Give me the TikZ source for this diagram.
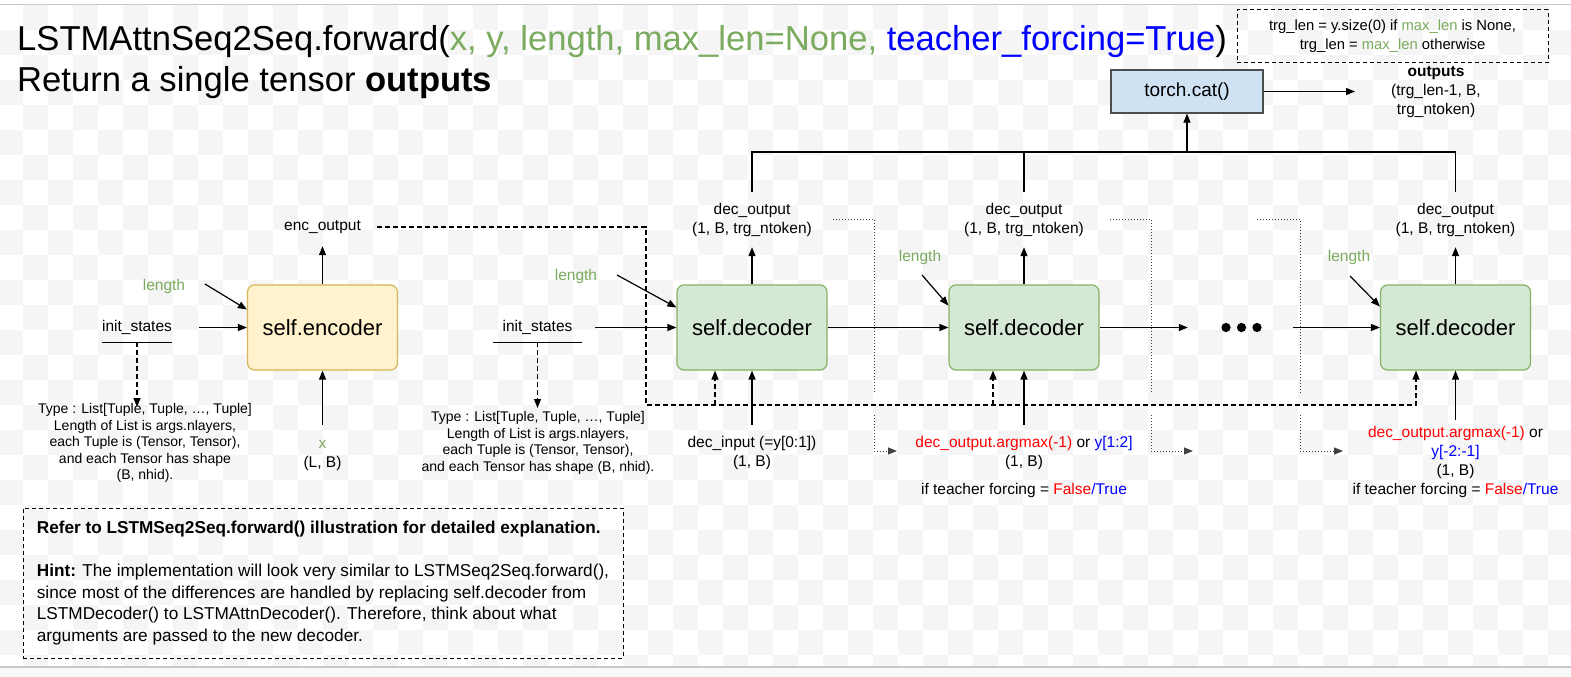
\documentclass[tikz,border=0pt]{standalone}
\usepackage{fontspec}
\setmainfont{Liberation Sans}
\usetikzlibrary{arrows.meta,calc}
\definecolor{tgreen}{HTML}{7AAB5E}
\definecolor{tblue}{HTML}{0000FF}
\definecolor{tred}{HTML}{FF0000}
\definecolor{encfill}{HTML}{FFF2CC}
\definecolor{encdraw}{HTML}{D6B656}
\definecolor{decfill}{HTML}{D5E8D4}
\definecolor{decdraw}{HTML}{82B366}
\definecolor{catfill}{HTML}{CFE2F3}
\definecolor{catdraw}{HTML}{4D4D4D}
\definecolor{checker}{HTML}{F5F5F5}
\definecolor{bottomfill}{HTML}{F8F9FB}
\definecolor{frameline}{HTML}{C8C8C8}
\begin{document}
\begin{tikzpicture}[x=1pt,y=-1pt,
  arr/.style={line width=1.2pt,-{Triangle[length=9pt,width=7pt]}},
  darr/.style={line width=1.1pt,dash pattern=on 5pt off 3pt,-{Triangle[length=9pt,width=7pt]}},
  dotl/.style={line width=1pt,black!75,dash pattern=on 1pt off 2pt},
  dotarr/.style={dotl,-{Triangle[length=9pt,width=7pt]}},
  lbl/.style={inner sep=0pt,align=center,font=\fontsize{15.5}{19}\selectfont},
  small/.style={inner sep=0pt,align=center,font=\fontsize{14}{16.5}\selectfont},
  encbox/.style={draw=encdraw,fill=encfill,line width=1.2pt,rounded corners=7pt,minimum width=150,minimum height=85,font=\fontsize{22}{26}\selectfont},
  decbox/.style={draw=decdraw,fill=decfill,line width=1.2pt,rounded corners=7pt,minimum width=150,minimum height=85,font=\fontsize{22}{26}\selectfont},
  notebox/.style={draw,line width=1pt,dash pattern=on 4pt off 3pt}
]
\useasboundingbox (0,0) rectangle (1571,677);
% background
\fill[white] (0,0) rectangle (1571,677);
\begin{scope}
\clip (0,5) rectangle (1571,667);
\foreach \r in {0,...,26}{\foreach \k in {0,...,63}{%
  \pgfmathtruncatemacro\cpar{mod(\r+\k,2)}%
  \ifnum\cpar=1 \fill[checker] (-2+25*\k,5+25*\r) rectangle ++(25,25);\fi}}
\end{scope}
\fill[bottomfill] (0,667) rectangle (1571,677);
\draw[frameline,line width=1.2pt] (0,667) -- (1571,667);
\draw[frameline,line width=1pt] (0,4.5) -- (1571,4.5);

% title
\node[anchor=base west,inner sep=0pt,font=\fontsize{34.6}{40}\selectfont] (title1) at (17,51)
  {LSTMAttnSeq2Seq.forward(\textcolor{tgreen}{x, y, length, max\_len=None,} \textcolor{tblue}{teacher\_forcing=True})};
\node[anchor=base west,inner sep=0pt,font=\fontsize{34.6}{40}\selectfont] (title2) at (17,91)
  {Return a single tensor \textbf{outputs}};

% top right note
\node[notebox,minimum width=311,minimum height=53,align=center,inner sep=0pt,font=\fontsize{14.8}{19}\selectfont] (note) at (1392.5,36.5)
  {trg\_len = y.size(0) if \textcolor{tgreen}{max\_len} is None,\\trg\_len = \textcolor{tgreen}{max\_len} otherwise};

% torch.cat
\node[draw=catdraw,fill=catfill,line width=1.2pt,minimum width=152,minimum height=43,font=\fontsize{19}{22}\selectfont] (cat) at (1187,91.5) {torch.cat()};
\node[lbl] (outs) at (1436,92) {\textbf{outputs}\\(trg\_len-1, B,\\trg\_ntoken)};
\coordinate (outarr) at (1355,91.5);
\draw[arr] (cat.east) -- (outarr);

% encoder
\node[encbox] (enc) at (322.5,327.5) {self.encoder};
\node[lbl,inner xsep=16pt,minimum height=38] (encout) at (322.5,227) {enc\_output};
\draw[arr] (enc.north) -- (encout.south);
\node[lbl,minimum height=61] (xin) at (322.5,455.5) {\textcolor{tgreen}{x}\\(L, B)};
\draw[arr] (xin.north) -- (enc.south);
\node[lbl] (len0) at (164,286) {\textcolor{tgreen}{length}};
\coordinate (l0s) at (205,284);
\draw[arr] (l0s) -- ([yshift=18pt]enc.west);
\node[lbl,minimum width=70,minimum height=30] (is0) at (137,327) {init\_states};
\draw[line width=1.2pt] (is0.south west) -- (is0.south east);
\coordinate (is0a) at (199,327.5);
\draw[arr] (is0a) -- (enc.west);
\node[small] (t0) at (145,443) {Type : List[Tuple, Tuple, \dots, Tuple]\\Length of List is args.nlayers,\\each Tuple is (Tensor, Tensor),\\and each Tensor has shape\\(B, nhid).};
\coordinate (t0a) at (137,407);
\draw[darr] (is0.south) -- (t0a);

% decoder 1
\node[decbox] (dec1) at (752,327.5) {self.decoder};
\node[lbl,minimum height=55] (do1) at (752,219.5) {dec\_output\\(1, B, trg\_ntoken)};
\draw[arr] (dec1.north) -- (do1.south);
\node[lbl,minimum height=55] (din1) at (752,452.5) {dec\_input (=y[0:1])\\(1, B)};
\draw[arr] (din1.north) -- (dec1.south);
\node[lbl] (len1) at (576,276) {\textcolor{tgreen}{length}};
\coordinate (l1s) at (617,275);
\draw[arr] (l1s) -- ([yshift=20pt]dec1.west);
\node[lbl,minimum width=89,minimum height=30] (is1) at (537.5,327) {init\_states};
\draw[line width=1.2pt] (is1.south west) -- (is1.south east);
\coordinate (is1a) at (595,327.5);
\draw[arr] (is1a) -- (dec1.west);
\node[small] (t1) at (538,443) {Type : List[Tuple, Tuple, \dots, Tuple]\\Length of List is args.nlayers,\\each Tuple is (Tensor, Tensor),\\and each Tensor has shape (B, nhid).};
\coordinate (t1a) at (537.5,408);
\draw[darr] (is1.south) -- (t1a);

% decoder 2
\node[decbox] (dec2) at (1024,327.5) {self.decoder};
\node[lbl,minimum height=55] (do2) at (1024,219.5) {dec\_output\\(1, B, trg\_ntoken)};
\draw[arr] (dec2.north) -- (do2.south);
\node[lbl,minimum height=55] (din2) at (1024,452.5) {\textcolor{tred}{dec\_output.argmax(-1)} or \textcolor{tblue}{y[1:2]}\\(1, B)};
\draw[arr] (din2.north) -- (dec2.south);
\node[lbl] (tf2) at (1024,490) {if teacher forcing = \textcolor{tred}{False}\textcolor{tblue}{/True}};
\node[lbl] (len2) at (920,257) {\textcolor{tgreen}{length}};
\coordinate (l2s) at (922,275);
\draw[arr] (l2s) -- ([yshift=22pt]dec2.west);
\draw[arr] (dec1.east) -- (dec2.west);

% dots
\node[minimum width=105,minimum height=12,inner sep=0pt] (dots) at (1240.5,327.5) {};
\fill (1226,327.5) circle (4.6) (1241.5,327.5) circle (4.6) (1257,327.5) circle (4.6);
\draw[arr] (dec2.east) -- (dots.west);

% decoder 3
\node[decbox] (dec3) at (1455.5,327.5) {self.decoder};
\node[lbl,minimum height=55] (do3) at (1455.5,219.5) {dec\_output\\(1, B, trg\_ntoken)};
\draw[arr] (dec3.north) -- (do3.south);
\node[lbl,minimum height=83] (din3) at (1455.5,461.5) {\textcolor{tred}{dec\_output.argmax(-1)} or\\\textcolor{tblue}{y[-2:-1]}\\(1, B)\\if teacher forcing = \textcolor{tred}{False}\textcolor{tblue}{/True}};
\draw[arr] (din3.north) -- (dec3.south);
\node[lbl] (len3) at (1349,257) {\textcolor{tgreen}{length}};
\coordinate (l3s) at (1350,276);
\draw[arr] (l3s) -- ([yshift=21pt]dec3.west);
\draw[arr] (dots.east) -- (dec3.west);

% bus to torch.cat
\coordinate (bus) at (1187,152);
\draw[line width=1.2pt] (do1.north) |- (bus) -| (do3.north);
\draw[line width=1.2pt] (do2.north) -- (do2.north |- bus);
\draw[arr] (bus) -- (cat.south);

% dashed enc_output feed
\coordinate (dA) at (646,405);
\coordinate (b1) at ([xshift=-37pt]dec1.south);
\coordinate (b2) at ([xshift=-31pt]dec2.south);
\coordinate (b3) at ([xshift=-39.5pt]dec3.south);
\draw[darr] (encout.east) -| (dA) -| (b3);
\draw[darr] (b1 |- dA) -- (b1);
\draw[darr] (b2 |- dA) -- (b2);

% dotted feedback
\coordinate (p1a) at (833,219); \coordinate (p1b) at (874,393);
\coordinate (p1c) at (874,415); \coordinate (p1d) at (897,451);
\draw[dotl] (p1a) -| (p1b);
\draw[dotarr] (p1c) |- (p1d);
\coordinate (p2a) at (1110,219); \coordinate (p2b) at (1151,393);
\coordinate (p2c) at (1151,415); \coordinate (p2d) at (1193,451);
\draw[dotl] (p2a) -| (p2b);
\draw[dotarr] (p2c) |- (p2d);
\coordinate (p3a) at (1257,219); \coordinate (p3b) at (1300,393);
\coordinate (p3c) at (1300,415); \coordinate (p3d) at (1343,451);
\draw[dotl] (p3a) -| (p3b);
\draw[dotarr] (p3c) |- (p3d);

% bottom-left note
\node[notebox,minimum width=600,minimum height=150,inner sep=0pt,align=left,font=\fontsize{17.2}{21.5}\selectfont] (hint) at (323,583)
  {\noindent\textbf{Refer to LSTMSeq2Seq.forward() illustration for detailed explanation.}\\[21.5pt]
   \textbf{Hint:} The implementation will look very similar to LSTMSeq2Seq.forward(),\\
   since most of the differences are handled by replacing self.decoder from\\
   LSTMDecoder() to LSTMAttnDecoder(). Therefore, think about what\\
   arguments are passed to the new decoder.};
\end{tikzpicture}
\end{document}
